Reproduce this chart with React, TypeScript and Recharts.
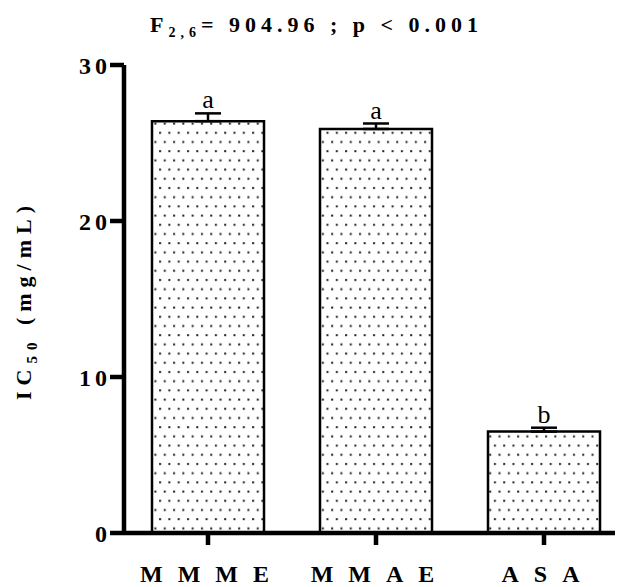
import React from "react";
import { ComposedChart, Bar, XAxis, YAxis, ErrorBar, LabelList } from "recharts";

// extracts, IC50 in mg/mL
const extracts = ["MMME", "MMAE", "ASA"];
const ic50 = [26.4, 25.9, 6.5];
const sem = [0.5, 0.35, 0.25];
const letters = ["a", "a", "b"];
const yTicks = [0, 10, 20, 30];

const data = extracts.map((name, i) => ({
  pos: i + 1,
  name,
  ic50: ic50[i],
  err: [0, sem[i]],
  letter: letters[i],
}));

const FONT = "'Liberation Serif', 'Times New Roman', serif";

const YTick = ({ x, y, payload }: any) => (
  <text x={x} y={y} dx={3} dy="0.36em" textAnchor="end" fontFamily={FONT} fontWeight="bold" fontSize={24} letterSpacing={4} fill="#000">
    {payload.value}
  </text>
);

const XTick = ({ x, y, payload }: any) => (
  <text x={x + 4} y={y} dy="0.72em" textAnchor="middle" fontFamily={FONT} fontWeight="bold" fontSize={24} letterSpacing={15} fill="#000">
    {extracts[payload.value - 1]}
  </text>
);

const YLabel = () => (
  <text transform="translate(31, 300) rotate(-90)" textAnchor="middle" fontFamily={FONT} fontWeight="bold" fontSize={22} letterSpacing={6} fill="#000">
    IC<tspan fontSize={15} dy={6}>50</tspan>
    <tspan dy={-6}> (mg/mL)</tspan>
  </text>
);

const renderLetter = (props: any) => {
  const vb = props.viewBox ?? props;
  const { x, y, width, height } = vb;
  const i = props.index ?? 0;
  const perUnit = height / ic50[i];
  const top = y - sem[i] * perUnit;
  return (
    <text x={x + width / 2} y={top - 5} textAnchor="middle" fontFamily={FONT} fontSize={26} fill="#000">
      {props.value}
    </text>
  );
};

export default function App() {
  return (
    <div style={{ position: "absolute", left: 0, top: 0, width: 619, height: 587, background: "#fff" }}>
      <div
        style={{
          position: "absolute",
          left: 150,
          top: 12,
          fontFamily: FONT,
          fontWeight: "bold",
          fontSize: 22,
          letterSpacing: 5,
          whiteSpace: "nowrap",
        }}
      >
        F<sub style={{ fontSize: 14, verticalAlign: "-5px" }}>2,6</sub>= 904.96 ; p &lt; 0.001
      </div>
      <ComposedChart width={619} height={587} data={data} margin={{ top: 65, right: 4, bottom: 0, left: 0 }}>
        <defs>
          <pattern id="dots" patternUnits="userSpaceOnUse" width={9.3} height={18.4}>
            <rect width={9.3} height={18.4} fill="#fff" />
            <rect x={1} y={3} width={2} height={2} fill="#222" />
            <rect x={5.65} y={12.2} width={2} height={2} fill="#222" />
          </pattern>
        </defs>
        <XAxis
          type="number"
          dataKey="pos"
          domain={[1, 3]}
          ticks={[1, 2, 3]}
          padding={{ left: 84, right: 71 }}
          height={54}
          tickSize={12}
          tickMargin={20}
          axisLine={{ stroke: "#000", strokeWidth: 4.5 }}
          tickLine={{ stroke: "#000", strokeWidth: 4.5 }}
          tick={<XTick />}
        />
        <YAxis
          type="number"
          domain={[0, 30]}
          ticks={yTicks}
          width={124}
          tickSize={14}
          tickMargin={2}
          axisLine={{ stroke: "#000", strokeWidth: 4.5 }}
          tickLine={{ stroke: "#000", strokeWidth: 4.5 }}
          tick={<YTick />}
          label={<YLabel />}
        />
        <Bar dataKey="ic50" barSize={112} fill="url(#dots)" stroke="#000" strokeWidth={2.5} isAnimationActive={false}>
          <ErrorBar dataKey="err" width={13} strokeWidth={2.5} stroke="#000" direction="y" />
          <LabelList dataKey="letter" content={renderLetter} />
        </Bar>
      </ComposedChart>
    </div>
  );
}
